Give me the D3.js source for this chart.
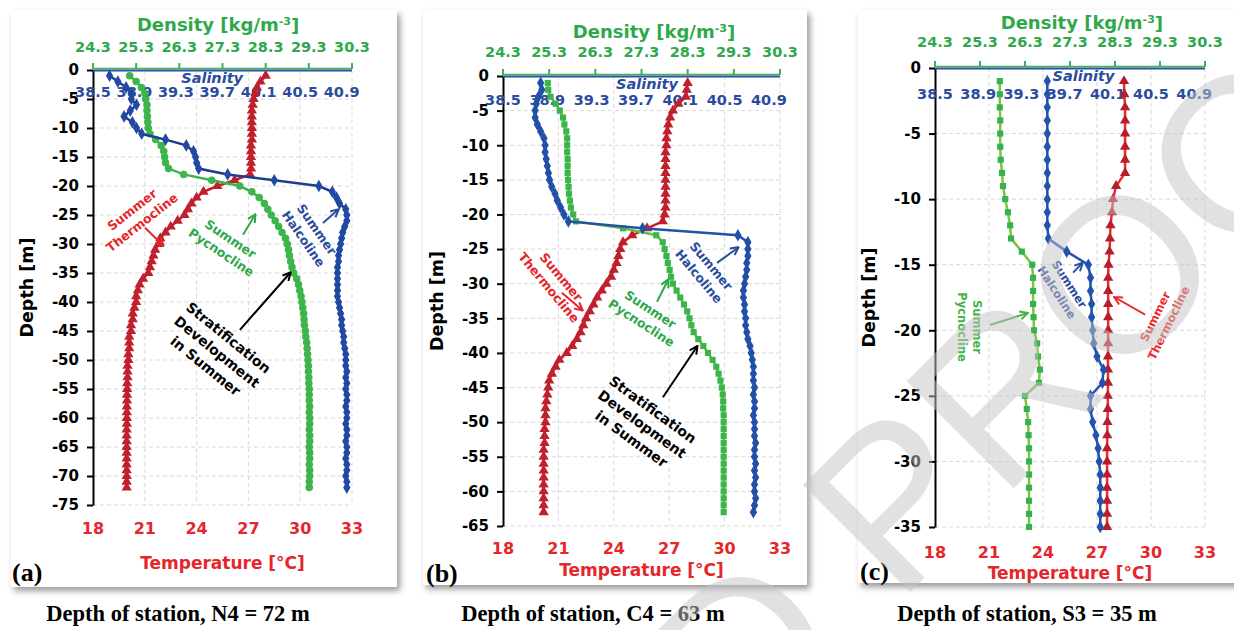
<!DOCTYPE html>
<html>
<head>
<meta charset="utf-8">
<script src="https://cdn.jsdelivr.net/npm/d3@7"></script>
<style>
  body { margin: 0; background: #fff; }
  svg { display: block; }
</style>
</head>
<body>
<svg id="chart" width="1234" height="630"></svg>
<script>
// ---------------- data (depth in m) ----------------

var stations = ["N4", "C4", "S3"];
var stationDepth = [72, 63, 35];
var panelLetters = ["(a)", "(b)", "(c)"];

var tempTicks = [18, 21, 24, 27, 30, 33];
var densTicks = [24.3, 25.3, 26.3, 27.3, 28.3, 29.3, 30.3];
var salTicks = [38.5, 38.9, 39.3, 39.7, 40.1, 40.5, 40.9];

// station N4
var depthN4 = [-1,-2,-3,-4,-5,-6,-7,-8,-9,-10,-11,-12,-13,-14,-15,-16,-17,-18,-19,-20,
  -21,-22,-23,-24,-25,-26,-27,-28,-29,-30,-31,-32,-33,-34,-35,-36,-37,-38,-39,-40,
  -41,-42,-43,-44,-45,-46,-47,-48,-49,-50,-51,-52,-53,-54,-55,-56,-57,-58,-59,-60,
  -61,-62,-63,-64,-65,-66,-67,-68,-69,-70,-71,-72];
var tempN4 = [28.0,27.7,27.5,27.4,27.3,27.25,27.2,27.2,27.2,27.2,
  27.2,27.2,27.15,27.15,27.15,27.15,27.15,27.1,26.2,25.2,
  24.4,24.0,23.7,23.5,23.3,22.9,22.5,22.2,21.9,21.8,
  21.6,21.5,21.4,21.3,21.2,20.9,20.7,20.6,20.5,20.5,
  20.4,20.3,20.3,20.2,20.2,20.1,20.1,20.1,20.05,20.05,
  20.0,20.0,20.0,19.98,19.98,19.97,19.97,19.96,19.96,19.96,
  19.96,19.95,19.95,19.95,19.95,19.95,19.95,19.95,19.95,19.95,19.95,19.95];
var salN4 = [38.66,38.74,38.82,38.87,38.87,38.92,38.86,38.80,38.88,38.92,
  38.97,39.20,39.40,39.47,39.49,39.50,39.52,39.80,40.25,40.68,
  40.81,40.85,40.88,40.94,40.95,40.95,40.93,40.91,40.90,40.89,
  40.88,40.87,40.87,40.86,40.86,40.86,40.86,40.86,40.86,40.87,
  40.88,40.89,40.90,40.90,40.91,40.92,40.92,40.93,40.94,40.94,
  40.94,40.95,40.94,40.95,40.94,40.95,40.95,40.94,40.95,40.95,
  40.94,40.95,40.95,40.94,40.95,40.95,40.94,40.95,40.95,40.94,40.95,40.95];
var densN4 = [25.15,25.30,25.42,25.50,25.52,25.55,25.55,25.56,25.57,25.58,
  25.62,25.75,25.88,25.94,25.96,25.98,26.05,26.40,27.05,27.70,
  27.98,28.15,28.27,28.35,28.43,28.52,28.60,28.68,28.76,28.80,
  28.83,28.85,28.88,28.91,28.95,29.02,29.06,29.09,29.12,29.14,
  29.16,29.18,29.19,29.20,29.22,29.23,29.25,29.26,29.27,29.28,
  29.29,29.29,29.30,29.30,29.31,29.31,29.31,29.32,29.31,29.32,
  29.32,29.31,29.32,29.32,29.31,29.32,29.32,29.31,29.32,29.32,29.31,29.31];

// station C4
var depthC4 = [-1,-2,-3,-4,-5,-6,-7,-8,-9,-10,-11,-12,-13,-14,-15,-16,-17,-18,-19,-20,
  -21,-22,-23,-24,-25,-26,-27,-28,-29,-30,-31,-32,-33,-34,-35,-36,-37,-38,-39,-40,
  -41,-42,-43,-44,-45,-46,-47,-48,-49,-50,-51,-52,-53,-54,-55,-56,-57,-58,-59,-60,
  -61,-62,-63];
var tempC4 = [28.0,27.95,27.9,27.5,27.2,27.05,26.95,26.9,26.85,26.85,
  26.8,26.8,26.8,26.8,26.8,26.8,26.8,26.8,26.8,26.75,
  26.65,25.8,25.0,24.5,24.35,24.25,24.15,24.0,23.85,23.6,
  23.35,23.1,22.9,22.7,22.5,22.35,22.2,22.0,21.75,21.45,
  21.05,20.85,20.65,20.5,20.45,20.4,20.35,20.3,20.3,20.3,
  20.25,20.25,20.25,20.2,20.2,20.2,20.2,20.2,20.2,20.2,
  20.2,20.2,20.2];
var salC4 = [38.84,38.85,38.82,38.80,38.79,38.79,38.81,38.84,38.87,38.88,
  38.88,38.89,38.90,38.91,38.92,38.94,38.97,38.99,39.02,39.05,
  39.09,39.76,40.62,40.71,40.71,40.71,40.70,40.70,40.69,40.68,
  40.67,40.67,40.68,40.68,40.69,40.69,40.70,40.71,40.73,40.74,
  40.75,40.76,40.76,40.76,40.77,40.76,40.77,40.77,40.76,40.77,
  40.77,40.77,40.78,40.77,40.77,40.78,40.77,40.78,40.77,40.77,
  40.78,40.77,40.76];
var densC4 = [25.27,25.28,25.33,25.44,25.53,25.60,25.63,25.67,25.69,25.69,
  25.69,25.70,25.70,25.70,25.71,25.72,25.73,25.75,25.77,25.82,
  25.88,26.90,27.62,27.76,27.80,27.84,27.87,27.91,27.94,27.98,
  28.06,28.14,28.22,28.29,28.34,28.38,28.43,28.53,28.64,28.74,
  28.84,28.92,28.97,29.01,29.04,29.06,29.07,29.07,29.08,29.08,
  29.08,29.08,29.08,29.08,29.08,29.08,29.08,29.08,29.08,29.08,
  29.08,29.08,29.08];

// station S3
var depthS3 = [-1,-2,-3,-4,-5,-6,-7,-8,-9,-10,-11,-12,-13,-14,-15,-16,-17,-18,-19,-20,
  -21,-22,-23,-24,-25,-26,-27,-28,-29,-30,-31,-32,-33,-34,-35];
var tempS3 = [28.50,28.52,28.56,28.56,28.56,28.56,28.56,28.56,28.06,27.89,
  27.83,27.75,27.72,27.70,27.64,27.62,27.62,27.62,27.62,27.62,
  27.62,27.61,27.61,27.61,27.60,27.60,27.58,27.57,27.56,27.56,
  27.56,27.56,27.56,27.56,27.56];
var salS3 = [39.54,39.54,39.54,39.54,39.54,39.54,39.54,39.54,39.54,39.54,
  39.54,39.54,39.55,39.72,39.92,39.94,39.94,39.95,39.95,39.96,
  39.97,40.00,40.06,40.05,39.94,39.94,39.96,39.99,40.01,40.02,
  40.03,40.03,40.03,40.03,40.03];
var densS3 = [25.74,25.74,25.74,25.75,25.75,25.75,25.76,25.79,25.81,25.86,
  25.92,25.97,25.99,26.23,26.46,26.48,26.48,26.48,26.49,26.50,
  26.57,26.59,26.63,26.61,26.30,26.34,26.37,26.38,26.39,26.39,
  26.39,26.39,26.39,26.39,26.39];

// ---------------- layout ----------------

var RED = "#e5262b", GREEN = "#2ea84a", BLUE = "#2b4c9e";
var SANS = "DejaVu Sans", SERIF = "Liberation Serif";

var panels = [
  { depth: depthN4, temp: tempN4, sal: salN4, dens: densN4, dmin: -75,
    card: [11, 10, 386, 577], L: 93, T: 70, W: 259, H: 435,
    densTitleX: 0.483, salWordX: 0.46, tLab: 23, tTitle: 58, dLab: 23, dTitle: 45, sLab: 22,
    capX: 178, letterX: 12, letterY: 581, densShape: d3.symbolCircle,
    tempLine: "#c0202e", tempMark: "#c0202e", densLine: "#3db54a", densMark: "#3db54a",
    salLine: "#1f3d8f", salMark: "#2049a3",
    notes: [
      { lines: ["Summer", "Thermocline"], t: 20.55, d: -25.2, rot: -38, size: 12.5, color: RED, arrow: [21.01, -27.2, 22.05, -30.2] },
      { lines: ["Summer", "Pycnocline"], t: 25.7, d: -30.3, rot: 34, size: 12.5, color: GREEN, arrow: [26.69, -28.4, 27.38, -25.0] },
      { lines: ["Summer", "Halcoline"], t: 30.57, d: -28.3, rot: 55, size: 12.5, color: BLUE, arrow: [31.32, -26.4, 32.19, -24.1] },
      { lines: ["Stratification", "Development", "in Summer"], t: 25.18, d: -48.6, rot: 39, size: 14, color: "#000", arrow: [26.51, -44.8, 29.41, -35.0] }
    ] },
  { depth: depthC4, temp: tempC4, sal: salC4, dens: densC4, dmin: -65,
    card: [423, 10, 384, 575], L: 503, T: 76, W: 277, H: 450,
    densTitleX: 0.545, salWordX: 0.52, tLab: 22, tTitle: 44, dLab: 24, dTitle: 44, sLab: 24,
    capX: 593, letterX: 426, letterY: 582, densShape: d3.symbolSquare,
    tempLine: "#c8202c", tempMark: "#c0202e", densLine: "#6abd45", densMark: "#3bb54a",
    salLine: "#2152a8", salMark: "#2150a8",
    notes: [
      { lines: ["Summer", "Thermocline"], t: 20.82, d: -29.8, rot: 50, size: 12.5, color: RED, arrow: [21.19, -31.3, 22.28, -33.8] },
      { lines: ["Summer", "Pycnocline"], t: 25.74, d: -34.7, rot: 33, size: 12.5, color: GREEN, arrow: [26.34, -32.6, 26.93, -29.5] },
      { lines: ["Summer", "Halcoline"], t: 28.94, d: -28.2, rot: 50, size: 12.5, color: BLUE, arrow: [29.59, -27.0, 30.72, -24.8] },
      { lines: ["Stratification", "Development", "in Summer"], t: 25.53, d: -50.3, rot: 36, size: 14, color: "#000", arrow: [26.66, -46.4, 28.5, -39.1] }
    ] },
  { depth: depthS3, temp: tempS3, sal: salS3, dens: densS3, dmin: -35,
    card: [858, 10, 380, 573], L: 935, T: 68, W: 270, H: 459,
    densTitleX: 0.544, salWordX: 0.55, tLab: 25, tTitle: 46, dLab: 26, dTitle: 45, sLab: 26,
    capX: 1027, letterX: 860, letterY: 580, densShape: d3.symbolSquare,
    tempLine: "#ee2a2e", tempMark: "#b3202c", densLine: "#80c342", densMark: "#35b34a",
    salLine: "#2153ad", salMark: "#2153ad",
    notes: [
      { lines: ["Summer", "Pycnocline"], t: 19.94, d: -19.75, rot: 90, size: 11.5, color: "#45b549", arrow: [21.06, -19.6, 23.11, -18.7] },
      { lines: ["Summer", "Halcoline"], t: 25.11, d: -16.8, rot: 57, size: 11.5, color: BLUE, arrow: [25.67, -15.6, 26.17, -14.9] },
      { lines: ["Summer", "Thermocline"], t: 30.61, d: -19.2, rot: -64, size: 11.5, color: "#ee2a2e", arrow: [29.67, -18.8, 28.0, -17.5] }
    ] }
];

// ---------------- drawing ----------------

var svg = d3.select("#chart");
svg.append("rect").attr("width", 1234).attr("height", 630).attr("fill", "#fff");

var defs = svg.append("defs");
defs.append("filter").attr("id", "shadow")
    .attr("x", "-5%").attr("y", "-5%").attr("width", "115%").attr("height", "115%")
  .append("feDropShadow")
    .attr("dx", 3).attr("dy", 4).attr("stdDeviation", 3)
    .attr("flood-color", "#000").attr("flood-opacity", 0.4);

var arrowIds = {};
function arrowHead(color) {
  if (arrowIds[color]) return arrowIds[color];
  var id = "arr" + Object.keys(arrowIds).length;
  defs.append("marker").attr("id", id)
      .attr("viewBox", "0 0 10 10").attr("refX", 8).attr("refY", 5)
      .attr("markerWidth", 10).attr("markerHeight", 10)
      .attr("markerUnits", "userSpaceOnUse").attr("orient", "auto")
    .append("path").attr("d", "M1,1 L9,5 L1,9")
      .attr("fill", "none").attr("stroke", color).attr("stroke-width", 2);
  arrowIds[color] = id;
  return id;
}

panels.forEach(function(p, k) {
  var g = svg.append("g");

  // card
  g.append("rect")
      .attr("x", p.card[0]).attr("y", p.card[1])
      .attr("width", p.card[2]).attr("height", p.card[3])
      .attr("fill", "#fff").attr("filter", "url(#shadow)");

  var y = d3.scaleLinear().domain([0, p.dmin]).range([p.T, p.T + p.H]);
  var xT = d3.scaleLinear().domain([18, 33]).range([p.L, p.L + p.W]);
  var xD = d3.scaleLinear().domain([24.3, 30.3]).range([p.L, p.L + p.W]);
  var xS = d3.scaleLinear().domain([38.5, 41.0]).range([p.L, p.L + p.W]);
  var depthTicks = d3.range(0, p.dmin - 1, -5);

  // grid
  g.append("g").selectAll("line").data(depthTicks.slice(1)).join("line")
      .attr("x1", p.L).attr("x2", p.L + p.W)
      .attr("y1", function(d) { return y(d); }).attr("y2", function(d) { return y(d); })
      .attr("stroke", "#d9d9d9").attr("stroke-dasharray", "4,3");
  g.append("g").selectAll("line").data(tempTicks.slice(1)).join("line")
      .attr("x1", function(d) { return xT(d); }).attr("x2", function(d) { return xT(d); })
      .attr("y1", p.T).attr("y2", p.T + p.H)
      .attr("stroke", "#d9d9d9").attr("stroke-dasharray", "4,3");

  // depth axis
  var ya = g.append("g")
      .attr("transform", "translate(" + p.L + ",0)")
      .call(d3.axisLeft(y).tickValues(depthTicks).tickSizeInner(6).tickSizeOuter(0)
            .tickPadding(8).tickFormat(function(d) { return String(d); }));
  ya.select(".domain").attr("stroke", "#000").attr("stroke-width", 2);
  ya.selectAll(".tick line").attr("stroke", "#000").attr("stroke-width", 2);
  ya.selectAll(".tick text").attr("font-family", SANS).attr("font-weight", "bold")
      .attr("font-size", 15).attr("fill", "#000");

  g.append("text")
      .attr("transform", "translate(" + (p.L - 66) + "," + (p.T + p.H / 2) + ") rotate(-90)")
      .attr("text-anchor", "middle").attr("dy", "0.35em")
      .attr("font-family", SANS).attr("font-weight", "bold").attr("font-size", 17.5)
      .text("Depth [m]");

  // top: density axis + salinity axis line
  g.append("line").attr("x1", p.L).attr("x2", p.L + p.W)
      .attr("y1", p.T - 1.5).attr("y2", p.T - 1.5)
      .attr("stroke", "#3db54a").attr("stroke-width", 1.5);
  g.append("line").attr("x1", p.L).attr("x2", p.L + p.W)
      .attr("y1", p.T + 0.5).attr("y2", p.T + 0.5)
      .attr("stroke", "#2452a8").attr("stroke-width", 2);
  g.append("g").selectAll("line").data(densTicks).join("line")
      .attr("x1", function(d) { return xD(d); }).attr("x2", function(d) { return xD(d); })
      .attr("y1", p.T - 1).attr("y2", p.T - 7)
      .attr("stroke", "#3db54a").attr("stroke-width", 2);
  g.append("g").selectAll("text").data(densTicks).join("text")
      .attr("x", function(d) { return xD(d); }).attr("y", p.T - p.dLab)
      .attr("dy", "0.35em").attr("text-anchor", "middle")
      .attr("font-family", SANS).attr("font-weight", "bold").attr("font-size", 14.5)
      .attr("fill", GREEN).text(function(d) { return d.toFixed(1); });
  var dt = g.append("text")
      .attr("x", p.L + p.densTitleX * p.W).attr("y", p.T - p.dTitle)
      .attr("dy", "0.35em").attr("text-anchor", "middle")
      .attr("font-family", SANS).attr("font-weight", "bold").attr("font-size", 18)
      .attr("fill", GREEN);
  dt.append("tspan").text("Density [kg/m");
  dt.append("tspan").attr("font-size", 11).attr("dy", "-0.6em").text("-3");
  dt.append("tspan").attr("dy", "0.4em").text("]");

  g.append("g").selectAll("text").data(salTicks).join("text")
      .attr("x", function(d) { return xS(d); }).attr("y", p.T + p.sLab)
      .attr("dy", "0.35em").attr("text-anchor", "middle")
      .attr("font-family", SANS).attr("font-weight", "bold").attr("font-size", 14.5)
      .attr("fill", BLUE).text(function(d) { return d.toFixed(1); });
  g.append("text")
      .attr("x", p.L + p.salWordX * p.W).attr("y", p.T + 8)
      .attr("dy", "0.35em").attr("text-anchor", "middle")
      .attr("font-family", SANS).attr("font-weight", "bold").attr("font-style", "italic")
      .attr("font-size", 14.5).attr("fill", BLUE).text("Salinity");

  // bottom: temperature labels
  g.append("g").selectAll("text").data(tempTicks).join("text")
      .attr("x", function(d) { return xT(d); }).attr("y", p.T + p.H + p.tLab)
      .attr("dy", "0.35em").attr("text-anchor", "middle")
      .attr("font-family", SANS).attr("font-weight", "bold").attr("font-size", 16)
      .attr("fill", RED).text(function(d) { return d; });
  g.append("text")
      .attr("x", p.L + p.W / 2).attr("y", p.T + p.H + p.tTitle)
      .attr("dy", "0.35em").attr("text-anchor", "middle")
      .attr("font-family", SANS).attr("font-weight", "bold").attr("font-size", 17)
      .attr("fill", RED).text("Temperature [\u00B0C]");

  // profiles
  var rows = p.depth.map(function(d, i) {
    return { d: d, t: p.temp[i], s: p.sal[i], r: p.dens[i] };
  });
  var series = [
    { x: function(o) { return xT(o.t); }, line: p.tempLine, mark: p.tempMark, shape: d3.symbolTriangle, size: 46 },
    { x: function(o) { return xD(o.r); }, line: p.densLine, mark: p.densMark, shape: p.densShape, size: p.densShape === d3.symbolCircle ? 44 : 38 },
    { x: function(o) { return xS(o.s); }, line: p.salLine, mark: p.salMark, shape: d3.symbolDiamond, size: 46 }
  ];
  series.forEach(function(s) {
    g.append("path").datum(rows)
        .attr("d", d3.line().x(s.x).y(function(o) { return y(o.d); }))
        .attr("fill", "none").attr("stroke", s.line).attr("stroke-width", 2.5);
    g.append("g").selectAll("path").data(rows).join("path")
        .attr("d", d3.symbol().type(s.shape).size(s.size))
        .attr("transform", function(o) { return "translate(" + s.x(o) + "," + y(o.d) + ")"; })
        .attr("fill", s.mark);
  });

  // annotations
  p.notes.forEach(function(n) {
    var t = g.append("text")
        .attr("transform", "translate(" + xT(n.t) + "," + y(n.d) + ") rotate(" + n.rot + ")")
        .attr("text-anchor", "middle")
        .attr("font-family", SANS).attr("font-weight", "bold").attr("font-size", n.size)
        .attr("fill", n.color);
    var lh = n.size * 1.3;
    n.lines.forEach(function(s, i) {
      t.append("tspan").attr("x", 0)
          .attr("y", (i - (n.lines.length - 1) / 2) * lh + n.size * 0.35).text(s);
    });
    g.append("line")
        .attr("x1", xT(n.arrow[0])).attr("y1", y(n.arrow[1]))
        .attr("x2", xT(n.arrow[2])).attr("y2", y(n.arrow[3]))
        .attr("stroke", n.color).attr("stroke-width", 2)
        .attr("marker-end", "url(#" + arrowHead(n.color) + ")");
  });

  // panel letter and caption
  g.append("text").attr("x", p.letterX).attr("y", p.letterY)
      .attr("font-family", SERIF).attr("font-weight", "bold").attr("font-size", 26)
      .text(panelLetters[k]);
  g.append("text").attr("x", p.capX).attr("y", 621).attr("text-anchor", "middle")
      .attr("font-family", SERIF).attr("font-weight", "bold").attr("font-size", 22.5)
      .text("Depth of station, " + stations[k] + " = " + stationDepth[k] + " m");
});

// watermark over everything
svg.append("text")
    .attr("transform", "translate(-356,1858) rotate(-45)")
    .attr("font-family", "Liberation Sans").attr("font-size", 220)
    .attr("fill", "#c4c4c4").attr("fill-opacity", 0.5)
    .text("UNCORRECTED PROOF");
</script>
</body>
</html>
